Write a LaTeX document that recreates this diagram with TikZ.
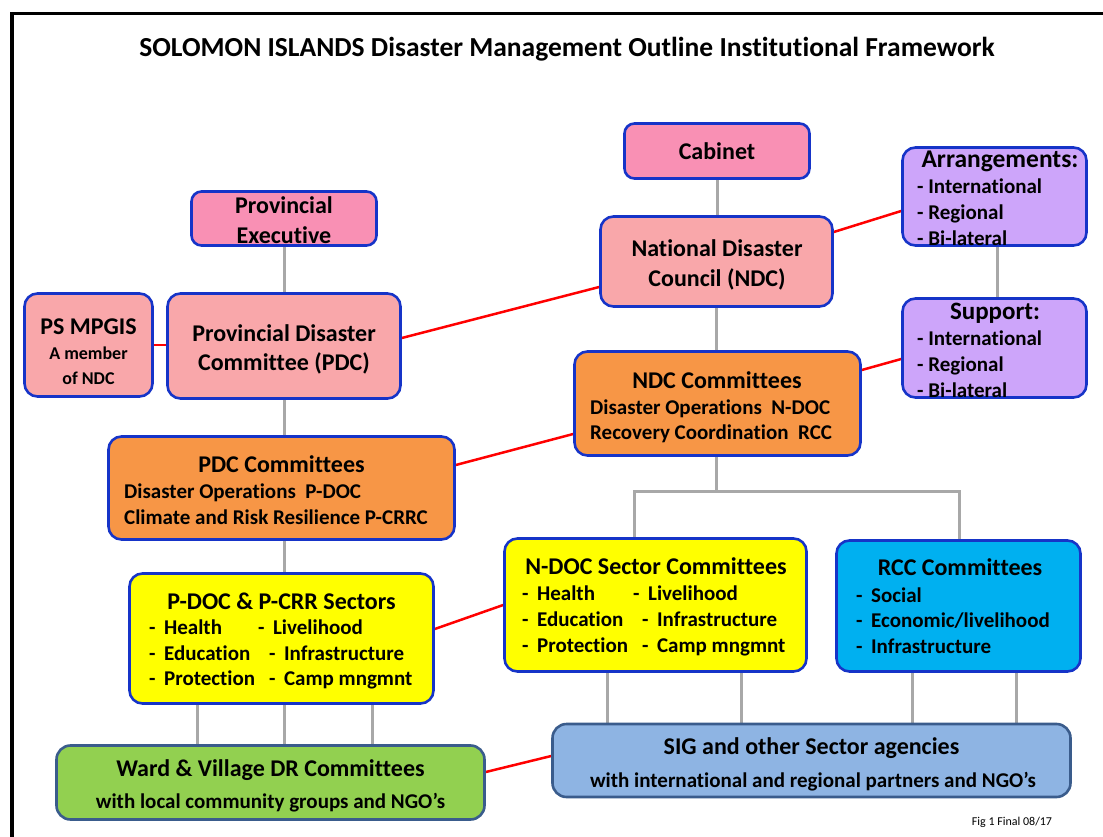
\documentclass[tikz,border=0pt]{standalone}
\usepackage{fontspec}
\setmainfont{Carlito}[Ligatures=NoCommon]
\usetikzlibrary{backgrounds}
\definecolor{bblue}{RGB}{22,52,200}
\definecolor{slate}{RGB}{58,92,140}
\definecolor{cpink}{RGB}{249,144,180}
\definecolor{salmon}{RGB}{249,167,170}
\definecolor{orng}{RGB}{247,150,70}
\definecolor{lav}{RGB}{205,165,250}
\definecolor{yel}{RGB}{255,255,0}
\definecolor{cyn}{RGB}{0,176,240}
\definecolor{grn}{RGB}{146,208,80}
\definecolor{steel}{RGB}{142,180,227}
\definecolor{lgray}{RGB}{168,168,168}
\newcommand\dsh{-\hspace{8.5pt}}
\begin{document}
\begin{tikzpicture}[x=1pt,y=-1pt,
  box/.style={draw=bblue, line width=2.6pt, rounded corners=13pt, inner sep=0pt},
  sbox/.style={draw=slate, line width=2.6pt, rounded corners=14pt, inner sep=0pt},
  hdr/.style={font=\fontsize{24}{30}\selectfont\bfseries, inner sep=0pt, align=center},
  sub/.style={font=\fontsize{21}{26}\selectfont\bfseries, inner sep=0pt},
  small/.style={font=\fontsize{18}{22}\selectfont\bfseries, inner sep=0pt},
  gl/.style={draw=lgray, line width=3pt},
  rl/.style={draw=red, line width=2.5pt}]
\useasboundingbox (0,0) rectangle (1103,837);

\node[font=\fontsize{27.5}{32}\selectfont\bfseries, inner sep=0pt, anchor=base] (title) at (567,57)
  {SOLOMON ISLANDS Disaster Management Outline Institutional Framework};

% boxes
\node[box, rounded corners=10pt, fill=cpink, minimum width=185pt, minimum height=55pt, hdr] (cab) at (717,151) {Cabinet};
\node[box, rounded corners=10pt, fill=cpink, minimum width=185pt, minimum height=54pt] (pex) at (284,218.5) {};
\node[box, fill=salmon, minimum width=232pt, minimum height=90pt] (ndc) at (716.5,261.5) {};
\node[box, fill=lav, minimum width=184pt, minimum height=98pt] (arr) at (994.5,196.5) {};
\node[box, fill=lav, minimum width=184pt, minimum height=99pt] (sup) at (994.5,348) {};
\node[box, fill=salmon, minimum width=128pt, minimum height=103pt] (psm) at (88.5,345) {};
\node[box, fill=salmon, minimum width=233pt, minimum height=105pt] (pdc) at (284,346) {};
\node[box, fill=orng, minimum width=286pt, minimum height=104pt] (ndcc) at (717.5,403.5) {};
\node[box, fill=orng, minimum width=346pt, minimum height=103pt] (pdcc) at (281.5,488) {};
\node[box, fill=yel, minimum width=304pt, minimum height=130pt] (pdoc) at (281.5,638.5) {};
\node[box, fill=yel, minimum width=302pt, minimum height=133pt] (ndoc) at (655.5,605) {};
\node[box, fill=cyn, minimum width=244pt, minimum height=131pt] (rcc) at (958.5,606) {};
\node[sbox, fill=grn, minimum width=428pt, minimum height=74pt] (ward) at (270.5,782.5) {};
\node[sbox, fill=steel, minimum width=518pt, minimum height=73pt] (sig) at (811.5,760.5) {};

% background and connectors
\begin{scope}[on background layer]
\fill[white] (0,0) rectangle (1103,837);
\draw[line width=3.6pt, line join=miter] (12,837) -- (12,13.5) -- (1103,13.5);
\draw[gl] (cab.south) -- (ndc.north -| cab.south);
\draw[gl] (pex.south) -- (pdc.north -| pex.south);
\draw[gl] (pdc.south) -- (pdcc.north -| pdc.south);
\draw[gl] (pdcc.south -| pdc.south) -- (pdoc.north -| pdc.south);
\draw[gl] (arr.south -| 997,0) -- (sup.north -| 997,0);
\draw[gl] (ndc.south) -- (ndcc.north -| ndc.south);
\coordinate (tl) at (634,491);
\coordinate (tr) at (959,491);
\draw[gl] (ndcc.south -| ndc.south) -- (ndc.south |- tl);
\draw[gl] (ndoc.north -| tl) -- (tl) -- (tr) -- (rcc.north -| tr);
\foreach \xx in {197,284,372} \draw[gl] (pdoc.south -| \xx,0) -- (ward.north -| \xx,0);
\foreach \xx in {607,741} \draw[gl] (ndoc.south -| \xx,0) -- (sig.north -| \xx,0);
\foreach \xx in {912,1016} \draw[gl] (rcc.south -| \xx,0) -- (sig.north -| \xx,0);
\draw[rl] (psm.east) -- (pdc.west |- psm.east);
\draw[rl] (pdc.east |- 0,338) -- (ndc.west |- 0,287);
\draw[rl] (pdcc.east |- 0,465) -- (ndcc.west |- 0,434);
\draw[rl] (ndc.east |- 0,232) -- (arr.west |- 0,211);
\draw[rl] (ndcc.east |- 0,370) -- (sup.west |- 0,359);
\draw[rl] (pdoc.east |- 0,629) -- (ndoc.west |- 0,605);
\draw[rl] (ward.east |- 0,772) -- (sig.west |- 0,756);
\end{scope}

% texts
\node[hdr, anchor=base] (pex1) at (284,213.5) {Provincial};
\node[hdr, anchor=base] (pex2) at (284,243.5) {Executive};
\node[hdr, anchor=base] (ndc1) at (717,256) {National Disaster};
\node[hdr, anchor=base] (ndc2) at (717,286.5) {Council (NDC)};
\node[hdr, anchor=base] (pdc1) at (284,341) {Provincial Disaster};
\node[hdr, anchor=base] (pdc2) at (284,370) {Committee (PDC)};

\node[hdr, font=\fontsize{25.5}{30}\selectfont\bfseries, anchor=base] (arrh) at (1000,168) {Arrangements:};
\node[sub, anchor=base west] (arr1) at (917,194) {- International};
\node[sub, anchor=base west] (arr2) at (917,220) {- Regional};
\node[sub, anchor=base west] (arr3) at (917,246) {- Bi-lateral};

\node[hdr, font=\fontsize{25}{30}\selectfont\bfseries, anchor=base] (suph) at (995,319) {Support:};
\node[sub, anchor=base west] (sup1) at (917,345) {- International};
\node[sub, anchor=base west] (sup2) at (917,371) {- Regional};
\node[sub, anchor=base west] (sup3) at (917,397) {- Bi-lateral};

\node[hdr, anchor=base] (psm1) at (88.5,334) {PS MPGIS};
\node[small, anchor=base] (psm2) at (88.5,359) {A member};
\node[small, anchor=base] (psm3) at (88.5,384) {of NDC};

\node[hdr, anchor=base] (ndcch) at (717,388) {NDC Committees};
\node[sub, anchor=base west] (ndcc1) at (590,414) {Disaster Operations~~N-DOC};
\node[sub, anchor=base west] (ndcc2) at (590,439) {Recovery Coordination~~RCC};

\node[hdr, anchor=base] (pdcch) at (281.5,472) {PDC Committees};
\node[sub, anchor=base west] (pdcc1) at (124,498) {Disaster Operations~~P-DOC};
\node[sub, anchor=base west] (pdcc2) at (124,524) {Climate and Risk Resilience~P-CRRC};

\node[hdr, anchor=base] (pdoch) at (281.5,609) {P-DOC \& P-CRR Sectors};
\node[sub, anchor=base west] (pdoc1a) at (149,634) {\dsh Health};
\node[sub, anchor=base west] (pdoc1b) at (258,634) {\dsh Livelihood};
\node[sub, anchor=base west] (pdoc2a) at (149,660) {\dsh Education};
\node[sub, anchor=base west] (pdoc2b) at (269,660) {\dsh Infrastructure};
\node[sub, anchor=base west] (pdoc3a) at (149,685) {\dsh Protection};
\node[sub, anchor=base west] (pdoc3b) at (269,685) {\dsh Camp mngmnt};

\node[hdr, anchor=base] (ndoch) at (656,574) {N-DOC Sector Committees};
\node[sub, anchor=base west] (ndoc1a) at (522,600) {\dsh Health};
\node[sub, anchor=base west] (ndoc1b) at (633,600) {\dsh Livelihood};
\node[sub, anchor=base west] (ndoc2a) at (522,626) {\dsh Education};
\node[sub, anchor=base west] (ndoc2b) at (642,626) {\dsh Infrastructure};
\node[sub, anchor=base west] (ndoc3a) at (522,652) {\dsh Protection};
\node[sub, anchor=base west] (ndoc3b) at (642,652) {\dsh Camp mngmnt};

\node[hdr, anchor=base] (rcch) at (960,575) {RCC Committees};
\node[sub, anchor=base west] (rcc1) at (856,602) {\dsh Social};
\node[sub, anchor=base west] (rcc2) at (856,627) {\dsh Economic/livelihood};
\node[sub, anchor=base west] (rcc3) at (856,653) {\dsh Infrastructure};

\node[hdr, anchor=base] (wardh) at (270.5,776) {Ward \& Village DR Committees};
\node[sub, anchor=base] (ward1) at (270.5,808) {with local community groups and NGO’s};

\node[hdr, anchor=base] (sigh) at (811.5,754) {SIG and other Sector agencies};
\node[sub, anchor=base] (sig1) at (813,787) {with international and regional partners and NGO’s};

\node[font=\fontsize{12}{14}\selectfont, inner sep=0pt, anchor=base] (fig) at (1012,825) {Fig 1 Final 08/17};
\end{tikzpicture}
\end{document}
